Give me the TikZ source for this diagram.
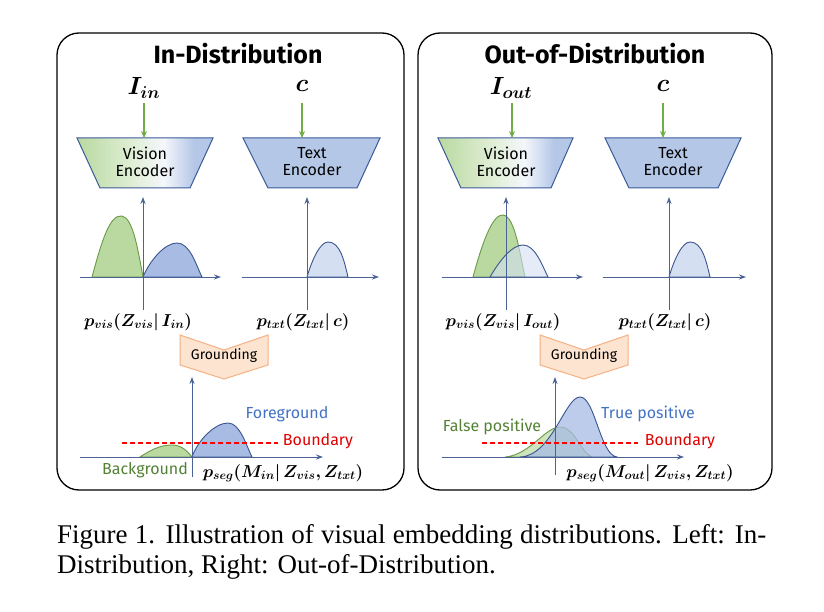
\documentclass[tikz,border=0pt]{standalone}
\usepackage{bm}
\usepackage{fontspec}
\setmainfont{Liberation Serif}
\newfontfamily\comic{Fira Sans}
\usetikzlibrary{arrows.meta}
\definecolor{axisc}{HTML}{4A6296}
\definecolor{gfill}{HTML}{B9D9A0}
\definecolor{gline}{HTML}{6A9A44}
\definecolor{bfill}{HTML}{A7BBE3}
\definecolor{bline}{HTML}{3A5590}
\definecolor{lbfill}{HTML}{D5DFF2}
\definecolor{encfill}{HTML}{B4C7E7}
\definecolor{encline}{HTML}{3B5A9A}
\definecolor{arrg}{HTML}{70AD47}
\definecolor{fgtext}{HTML}{4472C4}
\definecolor{bgtext}{HTML}{548235}
\definecolor{redc}{HTML}{E00000}
\definecolor{grfill}{HTML}{FCE4D0}
\definecolor{grline}{HTML}{F4B183}
\pgfdeclarehorizontalshading{visenc}{100bp}{color(0bp)=(gfill); color(25bp)=(gfill); color(45bp)=(gfill!45!white); color(57bp)=(white!85!encfill); color(68bp)=(encfill); color(100bp)=(encfill)}
\tikzset{
  panelbox/.style={draw=black, line width=1.3pt, rounded corners=22pt},
  inarrow/.style={draw=arrg, line width=1.1pt, -{Stealth[length=7pt,width=6pt]}},
  axisline/.style={draw=axisc, line width=1pt, -{Stealth[length=7pt,width=5pt]}},
  ttlfont/.style={font=\comic\bfseries\fontsize{25}{30}\selectfont},
  inputlab/.style={font=\fontsize{24}{28}\selectfont},
  enclab/.style={font=\comic\fontsize{16}{18}\selectfont, align=center, text=black},
  encshape/.style={draw=encline, line width=1pt},
  mathlab/.style={font=\fontsize{17.5}{20}\selectfont},
  groundshape/.style={draw=grline, fill=grfill, line width=1pt},
  groundlab/.style={font=\comic\fontsize{14}{16}\selectfont},
  curveg/.style={draw=gline, fill=gfill, line width=0.9pt},
  curveb/.style={draw=bline, fill=bfill, line width=0.9pt},
  curvelb/.style={draw=bline, fill=lbfill, line width=0.9pt},
  boundary line/.style={draw=red, line width=1.1pt, dash pattern=on 5pt off 3pt},
  annolab/.style={font=\comic\fontsize{16}{18}\selectfont},
  captionline/.style={font=\fontsize{27}{31}\selectfont, anchor=base west, inner sep=0pt}
}
\begin{document}
\begin{tikzpicture}[x=1pt,y=-1pt]
\useasboundingbox (0,0) rectangle (824,612);
\fill[white] (0,0) rectangle (824,612);
% panels
\draw[panelbox] (57,33) rectangle (404,490);
\draw[panelbox] (418,33) rectangle (772,490);
\node[ttlfont] (t1) at (238,54) {In-Distribution};
\node[ttlfont] (t2) at (595,54) {Out-of-Distribution};

% ===== LEFT =====
\node[inputlab] (iin) at (144,88) {$\bm{I_{in}}$};
\node[inputlab] (c1) at (302,86) {$\bm{c}$};
\shade[shading=visenc] (77,138) -- (213,138) -- (190,188) -- (100,188) -- cycle;
\draw[encshape] (77,138) -- (213,138) -- (190,188) -- (100,188) -- cycle;
\draw[encshape, fill=encfill] (243,138) -- (380,138) -- (357,188) -- (268,188) -- cycle;
\coordinate (v1top) at (144,138);
\coordinate (t1top) at (302,138);
\node[enclab] (venc1) at (145,162) {Vision\\[-1pt]Encoder};
\node[enclab] (tenc1) at (312,162) {Text\\[-1pt]Encoder};
\draw[inarrow] (144,103) -- (v1top);
\draw[inarrow] (302,103) -- (t1top);

% vis plot left
\draw[curveg] (92,277) .. controls (102,240) and (110,214) .. (122,216) .. controls (133,218) and (138,250) .. (143,277) -- cycle;
\draw[curveb] (143,277) .. controls (150,260) and (165,243) .. (177,243) .. controls (190,243) and (196,265) .. (202,277) -- cycle;
\coordinate (a1o) at (143,310);
\coordinate (a1t) at (143,197);
\coordinate (a1l) at (80,277);
\coordinate (a1r) at (221,277);
\draw[axisline] (a1o) -- (a1t);
\draw[axisline] (a1l) -- (a1r);
% txt plot left
\draw[curvelb] (307,277) .. controls (312,260) and (320,242) .. (328,242) .. controls (340,242) and (344,260) .. (348,277) -- cycle;
\coordinate (a2o) at (307,310);
\coordinate (a2t) at (307,197);
\coordinate (a2l) at (242,277);
\coordinate (a2r) at (379,277);
\draw[axisline] (a2o) -- (a2t);
\draw[axisline] (a2l) -- (a2r);
\node[mathlab] (l1) at (138,322) {$\bm{p_{vis}(Z_{vis}|\,I_{in})}$};
\node[mathlab] (l2) at (303,322) {$\bm{p_{txt}(Z_{txt}|\,c)}$};

% grounding left
\draw[groundshape] (180,335) -- (224,350) -- (268,335) -- (268,365) -- (224,379) -- (180,365) -- cycle;
\node[groundlab] (g1) at (224,356) {Grounding};

% seg plot left
\draw[curveg] (140,457) .. controls (155,447) and (164,445) .. (172,445) .. controls (182,445) and (188,452) .. (192,457) -- cycle;
\draw[curveb] (192,457) .. controls (198,440) and (215,423) .. (228,423) .. controls (240,423) and (246,445) .. (252,457) -- cycle;
\coordinate (a3o) at (192,477);
\coordinate (a3t) at (192,377);
\coordinate (a3l) at (80,457);
\coordinate (a3r) at (323,457);
\draw[axisline] (a3o) -- (a3t);
\draw[axisline] (a3l) -- (a3r);
\coordinate (b1l) at (122,443);
\coordinate (b1r) at (278,443);
\draw[boundary line] (b1l) -- (b1r);
\node[annolab, text=fgtext] (fg) at (287,414) {Foreground};
\node[annolab, text=redc] (bd1) at (318,441) {Boundary};
\node[annolab, text=bgtext] (bg) at (145,470) {Background};
\node[mathlab] (l3) at (283,473) {$\bm{p_{seg}(M_{in}|\,Z_{vis},Z_{txt})}$};

% ===== RIGHT =====
\node[inputlab] (iout) at (511,88) {$\bm{I_{out}}$};
\node[inputlab] (c2) at (663,86) {$\bm{c}$};
\shade[shading=visenc] (438,138) -- (573,138) -- (551,188) -- (461,188) -- cycle;
\draw[encshape] (438,138) -- (573,138) -- (551,188) -- (461,188) -- cycle;
\draw[encshape, fill=encfill] (605,138) -- (741,138) -- (718,188) -- (629,188) -- cycle;
\coordinate (v2top) at (512,138);
\coordinate (t2top) at (663,138);
\node[enclab] (venc2) at (506,162) {Vision\\[-1pt]Encoder};
\node[enclab] (tenc2) at (673,162) {Text\\[-1pt]Encoder};
\draw[inarrow] (512,103) -- (v2top);
\draw[inarrow] (663,103) -- (t2top);

% vis plot right
\draw[curveg] (473,277) .. controls (483,240) and (493,214) .. (503,215) .. controls (515,216) and (520,255) .. (525,277) -- cycle;
\draw[curvelb, fill opacity=0.6] (490,277) .. controls (500,260) and (512,245) .. (523,245) .. controls (535,245) and (542,265) .. (548,277) -- cycle;
\coordinate (a4o) at (506,310);
\coordinate (a4t) at (506,197);
\coordinate (a4l) at (442,277);
\coordinate (a4r) at (583,277);
\draw[axisline] (a4o) -- (a4t);
\draw[axisline] (a4l) -- (a4r);
% txt plot right
\draw[curvelb] (669,277) .. controls (674,260) and (682,242) .. (690,242) .. controls (702,242) and (706,260) .. (710,277) -- cycle;
\coordinate (a5o) at (669,310);
\coordinate (a5t) at (669,197);
\coordinate (a5l) at (603,277);
\coordinate (a5r) at (746,277);
\draw[axisline] (a5o) -- (a5t);
\draw[axisline] (a5l) -- (a5r);
\node[mathlab] (l4) at (503,322) {$\bm{p_{vis}(Z_{vis}|\,I_{out})}$};
\node[mathlab] (l5) at (665,322) {$\bm{p_{txt}(Z_{txt}|\,c)}$};

% grounding right
\draw[groundshape] (540,335) -- (584,350) -- (628,335) -- (628,365) -- (584,379) -- (540,365) -- cycle;
\node[groundlab] (g2) at (584,356) {Grounding};

% seg plot right
\draw[curveg, fill opacity=0.7] (505,457) .. controls (530,455) and (545,427) .. (560,427) .. controls (575,427) and (580,452) .. (592,457) -- cycle;
\draw[curveb, fill opacity=0.75] (520,457) .. controls (552,456) and (565,397) .. (580,397) .. controls (595,397) and (600,455) .. (617,457) -- cycle;
\coordinate (a6o) at (555,475);
\coordinate (a6t) at (555,377);
\coordinate (a6l) at (442,457);
\coordinate (a6r) at (684,457);
\draw[axisline] (a6o) -- (a6t);
\draw[axisline] (a6l) -- (a6r);
\coordinate (b2l) at (482,443);
\coordinate (b2r) at (638,443);
\draw[boundary line] (b2l) -- (b2r);
\node[annolab, text=fgtext] (tp) at (648,414) {True positive};
\node[annolab, text=bgtext] (fp) at (492,427) {False positive};
\node[annolab, text=redc] (bd2) at (680,441) {Boundary};
\node[mathlab] (l6) at (650,473) {$\bm{p_{seg}(M_{out}|\,Z_{vis},Z_{txt})}$};

% caption
\node[captionline] (cap1) at (57,543) {\makebox[709pt][s]{Figure 1. Illustration of visual embedding distributions. Left: In-}};
\node[captionline] (cap2) at (57,573) {Distribution, Right: Out-of-Distribution.};
\end{tikzpicture}
\end{document}
